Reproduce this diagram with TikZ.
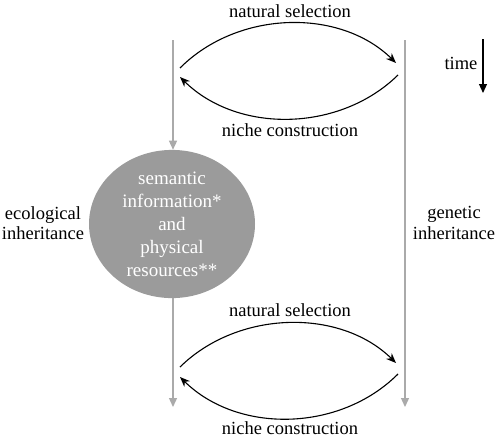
\documentclass[tikz,border=0pt]{standalone}
\usepackage{fontspec}
\setmainfont{Liberation Serif}
\usepackage{tikz}
\usetikzlibrary{shapes.geometric, arrows.meta}
\definecolor{linegray}{RGB}{170,170,170}
\definecolor{blobgray}{RGB}{155,155,155}

\begin{document}
\begin{tikzpicture}[x=1pt, y=-1pt,
  lbl/.style={font=\fontsize{18.5}{20.5}\selectfont, align=center},
  lineage/.style={linegray, line width=1.3pt, -{Triangle[length=9pt,width=8pt]}},
  arc/.style={line width=1.1pt, -{Stealth[length=10pt,width=8pt]}}]
\useasboundingbox (0,0) rectangle (500,439);

% Lineages
\coordinate (ecotop) at (173,40);
\coordinate (ecobot) at (173,407);
\coordinate (gentop) at (405,40);
\coordinate (genbot) at (405,407);
\node[ellipse, fill=blobgray, minimum width=166pt, minimum height=134pt, inner sep=0pt,
  text=white, align=center, font=\fontsize{19}{23}\selectfont] (info) at (172,224)
  {semantic\\information*\\and\\physical\\resources**};
\draw[lineage] (ecotop) -- (info.north -| ecotop);
\draw[lineage] (info.south -| ecobot) -- (ecobot);
\draw[lineage] (gentop) -- (genbot);

% Top interaction
\coordinate (a1) at (180,68);
\coordinate (b1) at (396,63);
\coordinate (c1) at (398,75);
\coordinate (d1) at (180,77);
\draw[arc] (a1) .. controls (238,10) and (340,8) .. (b1);
\draw[arc] (c1) .. controls (340,132) and (238,134) .. (d1);
\node[lbl] (ns1) at (290,11) {natural selection};
\node[lbl] (nc1) at (290,130) {niche construction};

% Bottom interaction
\coordinate (a2) at (180,367);
\coordinate (b2) at (396,363);
\coordinate (c2) at (398,374);
\coordinate (d2) at (180,377);
\draw[arc] (a2) .. controls (238,310) and (340,308) .. (b2);
\draw[arc] (c2) .. controls (340,432) and (238,434) .. (d2);
\node[lbl] (ns2) at (290,310) {natural selection};
\node[lbl] (nc2) at (290,428) {niche construction};

% Side labels
\node[lbl] (eco) at (43,223) {ecological\\inheritance};
\node[lbl] (gen) at (454,223) {genetic\\inheritance};

% Time
\node[lbl] (time) at (461,63) {time};
\coordinate (t0) at (483,39);
\coordinate (t1) at (483,93);
\draw[line width=1.1pt, -{Triangle[length=9pt,width=8pt]}] (t0) -- (t1);
\end{tikzpicture}
\end{document}
